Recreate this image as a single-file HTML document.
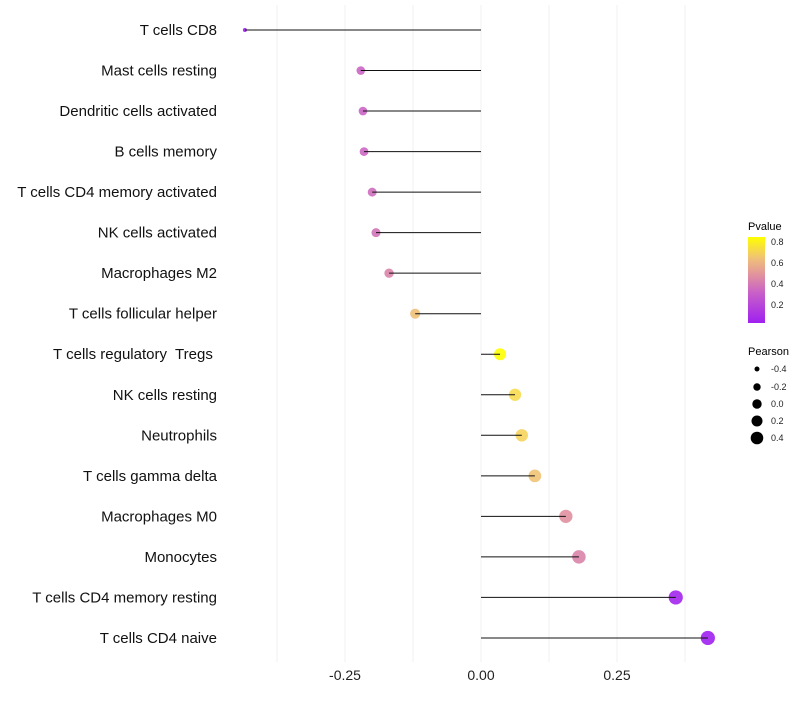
<!DOCTYPE html>
<html><head><meta charset="utf-8"><style>
body{margin:0;background:#fff;font-family:"Liberation Sans",sans-serif}
svg text{font-family:"Liberation Sans",sans-serif;white-space:pre}
</style></head><body>
<svg id="chart" width="800" height="700" xmlns="http://www.w3.org/2000/svg" xml:space="preserve">
<defs><linearGradient id="pg" x1="0" y1="1" x2="0" y2="0">
<stop offset="0" stop-color="#a020f0"/><stop offset="0.35" stop-color="#c860c8"/><stop offset="0.55" stop-color="#e090a0"/><stop offset="0.75" stop-color="#f0c078"/><stop offset="1" stop-color="#ffff00"/></linearGradient></defs>
<g id="grid"></g><g id="marks"></g><g id="labels"></g>
<g>
<text x="748" y="230" font-size="11">Pvalue</text>
<rect x="748" y="237" width="17" height="86" fill="url(#pg)"/>
<g font-size="9" fill="#222"><text x="771" y="245">0.8</text><text x="771" y="266">0.6</text><text x="771" y="287">0.4</text><text x="771" y="308">0.2</text></g>
</g>
<g>
<text x="748" y="355" font-size="11">Pearson</text>
<circle cx="757" cy="369" r="2.5"/><circle cx="757" cy="387" r="3.7"/><circle cx="757" cy="404" r="4.7"/><circle cx="757" cy="421" r="5.5"/><circle cx="757" cy="438" r="6.3"/>
<g font-size="9" fill="#222"><text x="771" y="372">-0.4</text><text x="771" y="390">-0.2</text><text x="771" y="407">0.0</text><text x="771" y="424">0.2</text><text x="771" y="441">0.4</text></g>
</g>
</svg>
<script>
const categories=["T cells CD8","Mast cells resting","Dendritic cells activated","B cells memory","T cells CD4 memory activated","NK cells activated","Macrophages M2","T cells follicular helper","T cells regulatory  Tregs ","NK cells resting","Neutrophils","T cells gamma delta","Macrophages M0","Monocytes","T cells CD4 memory resting","T cells CD4 naive"];
const pearson=[-0.434,-0.221,-0.217,-0.215,-0.200,-0.193,-0.169,-0.121,0.035,0.0625,0.075,0.099,0.156,0.180,0.358,0.417];
const pvalues=[0.03,0.32,0.32,0.33,0.36,0.38,0.45,0.65,0.85,0.75,0.72,0.66,0.5,0.45,0.06,0.04];
const xTicks=[-0.25,0,0.25];
const xTickLabels=["-0.25","0.00","0.25"];
const minorTicks=[-0.375,-0.125,0.125,0.375];
const NS="http://www.w3.org/2000/svg";
const x=v=>481+v*544;
const y=i=>30+i*40.53;
const rad=v=>Math.min(7.1,Math.sqrt(Math.max(3,33.6+68*v)));
function lerp(a,b,t){return a.map((c,k)=>Math.round(c+(b[k]-c)*t));}
function col(p){const stops=[[0.04,[160,32,240]],[0.3,[200,96,200]],[0.5,[224,144,160]],[0.65,[240,192,120]],[0.75,[248,220,80]],[0.85,[255,255,0]]];
if(p<=stops[0][0])return "rgb("+stops[0][1]+")";
for(let i=1;i<stops.length;i++){if(p<=stops[i][0]){const t=(p-stops[i-1][0])/(stops[i][0]-stops[i-1][0]);return "rgb("+lerp(stops[i-1][1],stops[i][1],t)+")";}}
return "rgb(255,255,0)";}
function mk(t,a,p){const e=document.createElementNS(NS,t);for(const k in a)e.setAttribute(k,a[k]);p.appendChild(e);return e;}
const grid=document.getElementById('grid'),marks=document.getElementById('marks'),labels=document.getElementById('labels');
[...xTicks,...minorTicks].forEach(v=>{const l=mk('line',{x1:x(v),x2:x(v),y1:5,y2:662,stroke:'#f0f0f0','stroke-width':1},grid);

});
xTicks.forEach((v,i)=>{const t=mk('text',{x:x(v),y:680,'font-size':14,'text-anchor':'middle',fill:'#222'},labels);t.textContent=xTickLabels[i];

});
categories.forEach((c,i)=>{
const t=mk('text',{x:217,y:y(i)+5,'font-size':15,'text-anchor':'end',fill:'#111'},labels);t.textContent=c;


const d=mk('circle',{cx:x(pearson[i]),cy:y(i),r:rad(pearson[i]),fill:col(pvalues[i]),'fill-opacity':0.9},marks);


const s=mk('line',{x1:x(0),x2:x(pearson[i]),y1:y(i),y2:y(i),stroke:'#111','stroke-width':1},marks);


});
</script>
</body></html>
